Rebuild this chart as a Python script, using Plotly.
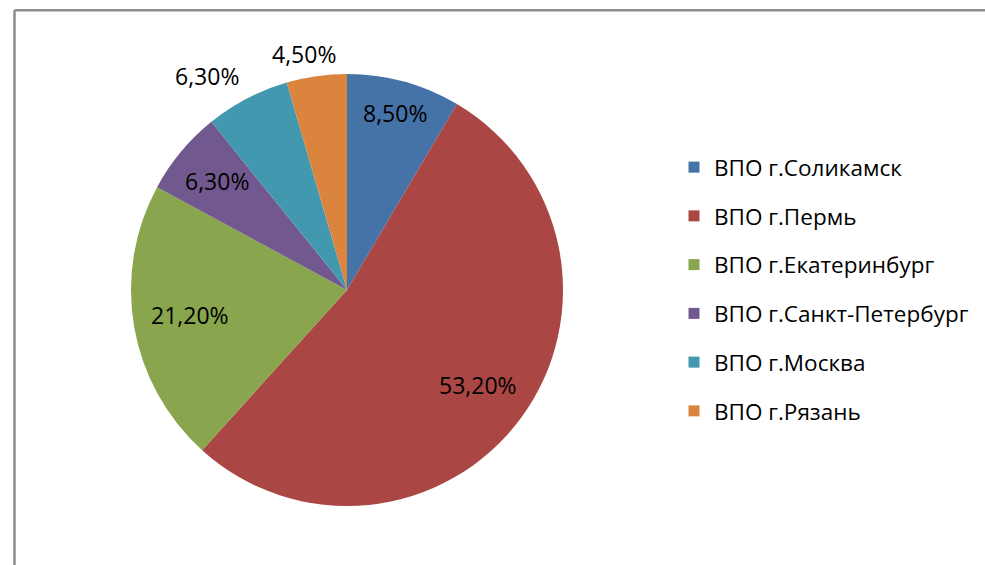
import math
import plotly.graph_objects as go

labels = ["ВПО г.Соликамск", "ВПО г.Пермь", "ВПО г.Екатеринбург",
          "ВПО г.Санкт-Петербург", "ВПО г.Москва", "ВПО г.Рязань"]
values = [8.5, 53.2, 21.2, 6.3, 6.3, 4.5]
colors = ["#4572A7", "#AA4643", "#89A54E", "#71588F", "#4198AF", "#DB843D"]
label_inside = [True, True, True, True, False, False]

W, H = 985, 565
FONT = "Open Sans"

texts = [f"{v:.2f}".replace(".", ",") + "%" for v in values]

fig = go.Figure()
cx, cy, r = 347, 290, 216
fig.add_trace(go.Pie(
    labels=labels, values=values, textinfo="none",
    sort=False, direction="clockwise", rotation=0,
    marker=dict(colors=colors, line=dict(width=0)),
    domain=dict(x=[(cx - r) / W, (cx + r) / W], y=[1 - (cy + r) / H, 1 - (cy - r) / H]),
    showlegend=False, automargin=False, hoverinfo="label+percent",
))

# data labels placed around the pie (clockwise from 12 o'clock)
total = sum(values)
cum = 0.0
annotations = []
for v, t, inside in zip(values, texts, label_inside):
    theta = 2 * math.pi * (cum + v / 2) / total
    cum += v
    s, c = math.sin(theta), math.cos(theta)
    half_w, half_h = 6.5 * len(t), 9.0
    if inside:
        ext = half_w * abs(s) + half_h * abs(c)
        d = r - ext - 16.5
        px = cx + d * s
        py = cy - d * c - 1.5
    else:
        px = cx + (r + 86) * s
        py = cy - r * c - 22
    annotations.append(dict(
        x=px / W, y=1 - py / H, xref="paper", yref="paper", text=t,
        showarrow=False, xanchor="center", yanchor="middle",
        font=dict(family=FONT, size=23, color="#000000"),
    ))

for i, (lab, col) in enumerate(zip(labels, colors)):
    fig.add_trace(go.Scatter(
        x=[None], y=[None], mode="markers", name=lab,
        marker=dict(symbol="square", size=11, color=col),
        legendgroup=f"g{i}", showlegend=True,
    ))

fig.update_layout(
    width=W, height=H,
    margin=dict(l=0, r=0, t=0, b=0),
    paper_bgcolor="white", plot_bgcolor="white",
    xaxis=dict(visible=False), yaxis=dict(visible=False),
    legend=dict(x=674 / W, y=1 - 146 / H, xanchor="left", yanchor="top",
                font=dict(family=FONT, size=22.5, color="#000000"),
                tracegroupgap=16.5, itemclick=False, bgcolor="rgba(0,0,0,0)"),
    annotations=annotations,
    shapes=[
        dict(type="line", xref="paper", yref="paper", x0=14.5 / W, x1=1.0,
             y0=1 - 10.3 / H, y1=1 - 10.3 / H, line=dict(color="#8C8C8C", width=2.5)),
        dict(type="line", xref="paper", yref="paper", x0=14.5 / W, x1=14.5 / W,
             y0=1 - 10.3 / H, y1=0, line=dict(color="#8C8C8C", width=2.5)),
    ],
)

fig.write_html("out.html", config={"displayModeBar": False},
               post_script="document.body.style.margin='0px';document.body.style.overflow='hidden';")
